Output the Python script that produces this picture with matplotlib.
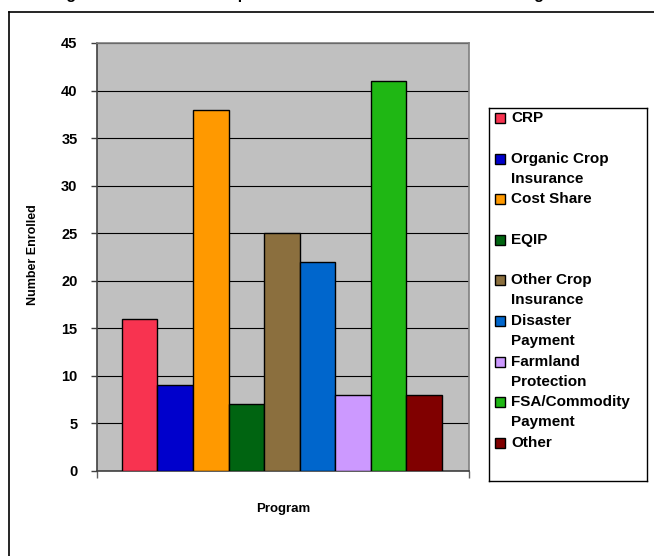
"""
Program enrollment bar chart (Excel-style recreation)
"""
import matplotlib
matplotlib.use('Agg')
import matplotlib.pyplot as plt
from matplotlib.patches import Rectangle
from matplotlib.lines import Line2D

# Data
programs = ["CRP", "Organic Crop\nInsurance", "Cost Share", "EQIP",
            "Other Crop\nInsurance", "Disaster\nPayment", "Farmland\nProtection",
            "FSA/Commodity\nPayment", "Other"]
enrolled = [16, 9, 38, 7, 25, 22, 8, 41, 8]
colors = ["#F83350", "#0000CC", "#FF9900", "#006411", "#8B6F3E",
          "#0066CC", "#CC99FF", "#1FB714", "#800000"]
yticks = [0, 5, 10, 15, 20, 25, 30, 35, 40, 45]
title = "Figure 3. Number of Respondents Enrolled in Federal Farm Programs"

W, H = 654, 556
plt.rcParams['font.family'] = ['Liberation Sans', 'DejaVu Sans']
plt.rcParams['font.weight'] = 'bold'

fig = plt.figure(figsize=(W / 100, H / 100), dpi=100)


def px_box(x0, y0, x1, y1):
    # pixel box (top-left origin) -> figure fraction rect
    return [x0 / W, 1 - y1 / H, (x1 - x0) / W, (y1 - y0) / H]


# outer chart frame (clipped at right/bottom in the original)
fig.add_artist(Line2D([9 / W, 9 / W], [0, 1 - 12 / H], color='black', lw=1.2))
fig.add_artist(Line2D([9 / W, 1], [1 - 12 / H, 1 - 12 / H], color='black', lw=1.2))

# title, mostly cut off at the top edge
fig.text(0.485, 1 + 0.5 / H, title, ha='center', va='baseline',
         fontsize=11.5, fontweight='bold')

ax = fig.add_axes(px_box(97, 43, 469, 471))
ax.set_facecolor('#C0C0C0')

bw = 0.0955
start = 0.067
for i, (v, c) in enumerate(zip(enrolled, colors)):
    ax.bar(start + bw * i + bw / 2, v, width=bw, color=c,
           edgecolor='black', linewidth=1.0, zorder=3)

ax.set_xlim(0, 1)
ax.set_ylim(0, 45)
ax.set_yticks(yticks)
ax.set_yticklabels([str(t) for t in yticks], fontsize=10.5, fontweight='bold')
ax.set_xticks([0, 1])
ax.set_xticklabels(['', ''])
ax.tick_params(axis='y', direction='out', length=4, width=1, color='#404040', pad=10)
ax.tick_params(axis='x', direction='out', length=5, width=1, color='#606060')
ax.yaxis.grid(True, color='black', lw=0.8, zorder=1)
ax.set_axisbelow(True)
for s in ['top', 'right']:
    ax.spines[s].set_color('#808080')
    ax.spines[s].set_linewidth(1.2)
for s in ['left', 'bottom']:
    ax.spines[s].set_color('#404040')
    ax.spines[s].set_linewidth(1.2)

fig.text(33 / W, 1 - 255 / H, "Number Enrolled", rotation=90, ha='center',
         va='center', fontsize=9, fontweight='bold')
fig.text(283 / W, 1 - 509 / H, "Program", ha='center', va='center',
         fontsize=9.5, fontweight='bold')

# legend box drawn by hand to mimic Excel layout
lg = fig.add_axes(px_box(489, 108, 647, 481))
lg.set_xlim(489, 647)
lg.set_ylim(481, 108)
lg.set_xticks([])
lg.set_yticks([])
for s in lg.spines.values():
    s.set_color('black')
    s.set_linewidth(1.0)

y0 = 118
step = 40.6
for i, (lab, c) in enumerate(zip(programs, colors)):
    yc = y0 + step * i
    lg.add_patch(Rectangle((495, yc - 5), 10, 10, facecolor=c,
                           edgecolor='black', lw=1.0))
    for j, line in enumerate(lab.split('\n')):
        lg.text(511, yc + 20 * j, line, ha='left', va='center',
                fontsize=11, fontweight='bold')

plt.savefig('out.png', dpi=100)
